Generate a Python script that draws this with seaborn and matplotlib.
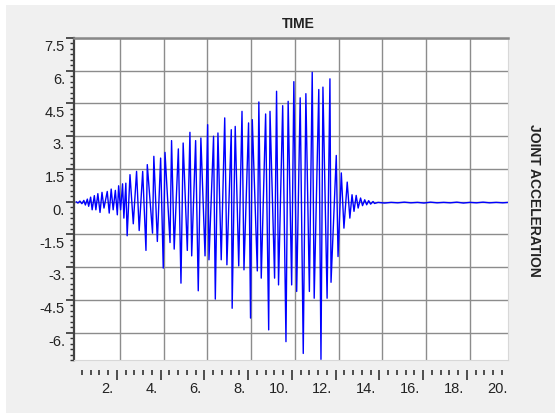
import matplotlib
matplotlib.use("Agg")
import matplotlib.pyplot as plt
from matplotlib.patches import Rectangle
from matplotlib.ticker import MultipleLocator
import numpy as np
import pandas as pd
import seaborn as sns

#%% Data (vertices of the trace)

time = [0.00, 0.08, 0.17, 0.26, 0.35, 0.42, 0.51, 0.57, 0.66, 0.73,
        0.83, 0.90, 0.99, 1.09, 1.18, 1.27, 1.42, 1.51, 1.60, 1.69,
        1.79, 1.88, 1.94, 2.03, 2.12, 2.18, 2.27, 2.33, 2.46, 2.61,
        2.76, 2.88, 3.04, 3.19, 3.25, 3.49, 3.55, 3.71, 3.86, 3.98,
        4.06, 4.29, 4.36, 4.48, 4.67, 4.79, 4.89, 5.08, 5.20, 5.28,
        5.46, 5.58, 5.70, 5.89, 6.01, 6.07, 6.28, 6.36, 6.48, 6.63,
        6.79, 6.89, 7.09, 7.13, 7.27, 7.43, 7.58, 7.67, 7.88, 7.97,
        8.05, 8.28, 8.35, 8.46, 8.66, 8.80, 8.86, 9.07, 9.16, 9.25,
        9.44, 9.59, 9.69, 9.85, 9.95, 10.08, 10.24, 10.38, 10.50, 10.66,
        10.79, 10.88, 11.09, 11.19, 11.28, 11.47, 11.60, 11.65, 11.89, 11.97,
        12.12, 12.24, 12.39, 12.51, 12.61, 12.70, 12.80, 12.89, 13.00, 13.09,
        13.19, 13.28, 13.37, 13.46, 13.57, 13.64, 13.80, 14.10, 14.40, 14.70,
        15.00, 15.30, 15.60, 15.90, 16.20, 16.50, 16.80, 17.10, 17.40, 17.70,
        18.00, 18.30, 18.60, 18.90, 19.20, 19.50, 19.75]

accel = [0.00, -0.06, 0.03, -0.09, 0.06, -0.15, 0.12, -0.21, 0.21, -0.37,
         0.28, -0.37, 0.37, -0.49, 0.43, -0.29, 0.47, -0.52, 0.58, -0.37,
         0.52, -0.60, 0.73, -0.37, 0.82, -0.75, 0.85, -1.56, 1.24, -1.01,
         1.39, -1.32, 1.39, -2.23, 1.70, -1.44, 2.08, -1.82, 2.00, -3.04,
         2.26, -1.87, 2.80, -2.17, 2.42, -3.73, 2.69, -2.23, 3.18, -2.48,
         2.80, -4.08, 2.92, -2.48, 3.53, -2.66, 3.00, -4.46, 3.15, -2.66,
         3.84, -2.89, 3.30, -4.88, 3.45, -2.94, 4.14, -3.12, 3.61, -5.33,
         3.76, -3.17, 4.57, -3.50, 4.02, -5.87, 4.14, -3.50, 5.06, -3.81,
         4.40, -6.41, 4.60, -3.81, 5.50, -4.11, 4.76, -6.95, 4.95, -4.11,
         5.93, -4.42, 5.14, -7.22, 5.25, -4.42, 5.63, -3.69, 2.12, -2.51,
         1.32, -1.21, 0.90, -0.75, 0.32, -0.44, 0.29, -0.29, 0.17, -0.18,
         0.09, -0.14, 0.05, -0.11, 0.01, -0.08, -0.03, -0.06, -0.03, -0.05,
         -0.02, -0.05, -0.03, -0.06, -0.02, -0.05, -0.03, -0.05, -0.02, -0.06,
         -0.03, -0.05, -0.02, -0.05, -0.03, -0.05, -0.03]

ytick_vals = [7.5, 6.0, 4.5, 3.0, 1.5, 0.0, -1.5, -3.0, -4.5, -6.0]
ytick_labels = ["7.5", "6.", "4.5", "3.", "1.5", "0.", "-1.5", "-3.", "-4.5", "-6."]
xtick_vals = [2, 4, 6, 8, 10, 12, 14, 16, 18, 20]
xtick_labels = ["2.", "4.", "6.", "8.", "10.", "12.", "14.", "16.", "18.", "20."]

df = pd.DataFrame({"time": time, "accel": accel})

#%% Figure

sns.set_theme(style="white")
plt.rcParams["font.family"] = ["Liberation Sans", "DejaVu Sans"]

W, H = 555, 418
fig = plt.figure(figsize=(W / 100, H / 100), dpi=100, facecolor="white")

# grey panel behind everything
fig.patches.append(Rectangle((6 / W, 5 / H), (W - 6) / W, (413 - 5) / H,
                             transform=fig.transFigure, facecolor="#f0f0f0",
                             edgecolor="none", zorder=-10))

# main plot area (pixels: x 74..508, y 38..360)
ax = fig.add_axes([74 / W, (H - 360) / H, (508 - 74) / W, (360 - 38) / H])
ax.set_facecolor("white")

sns.lineplot(data=df, x="time", y="accel", ax=ax, color="#0000ff",
             linewidth=1.0, sort=False, estimator=None)

ax.set_xlim(-0.10, 19.74)
ax.set_ylim(-7.25, 7.5)
ax.set_xlabel("")
ax.set_ylabel("")

# grid
ax.set_xticks([2, 4, 6, 8, 10, 12, 14, 16, 18])
ax.set_yticks(ytick_vals)
ax.yaxis.set_minor_locator(MultipleLocator(0.25))
ax.grid(True, which="major", color="#8c8c8c", linewidth=1.0)
ax.set_axisbelow(True)

ax.tick_params(axis="x", which="both", bottom=False, labelbottom=False)
ax.tick_params(axis="y", which="major", direction="out", length=6,
               width=1.2, color="#333333", labelleft=False, left=True)
ax.tick_params(axis="y", which="minor", direction="out", length=3,
               width=1.0, color="#333333", left=True)

ax.spines["left"].set_color("#444444")
ax.spines["left"].set_linewidth(1.6)
ax.spines["top"].set_color("#888888")
ax.spines["top"].set_linewidth(1.8)
ax.spines["right"].set_color("#d8d8d8")
ax.spines["right"].set_linewidth(0.8)
ax.spines["bottom"].set_color("#d8d8d8")
ax.spines["bottom"].set_linewidth(0.8)

for v, lbl in zip(ytick_vals, ytick_labels):
    ax.annotate(lbl, xy=(0, v), xycoords=("axes fraction", "data"),
                xytext=(-6.5, -1.5), textcoords="offset points",
                ha="right", va="top", fontsize=10.5, color="#222222",
                annotation_clip=False)

# ruler under the plot, slightly shifted like the original
rul = fig.add_axes([74 / W, (H - 370) / H, (508 - 74) / W, 0.001])
rul.set_xlim(-0.10 + 0.14, 19.74 + 0.14)
rul.set_ylim(0, 1)
rul.patch.set_visible(False)
for s in rul.spines.values():
    s.set_visible(False)
rul.set_yticks([])
rul.xaxis.set_major_locator(MultipleLocator(2))
rul.xaxis.set_minor_locator(MultipleLocator(0.4))
rul.tick_params(axis="x", which="major", direction="out", length=7.2,
                width=1.2, color="#333333", bottom=True, labelbottom=False)
rul.tick_params(axis="x", which="minor", direction="out", length=3.6,
                width=1.2, color="#333333", bottom=True)

for v, lbl in zip(xtick_vals, xtick_labels):
    rul.annotate(lbl, xy=(v, 0), xycoords=("data", "axes fraction"),
                 xytext=(-2.2, -8.5), textcoords="offset points",
                 ha="right", va="top", fontsize=10.5, color="#222222",
                 annotation_clip=False)

fig.text(298 / W, 1 - 23.5 / H, "TIME", ha="center", va="center",
         fontsize=10, fontweight="bold", color="#222222")
fig.text(534 / W, 1 - 200 / H, "JOINT ACCELERATION", ha="center",
         va="center", rotation=270, fontsize=10, fontweight="bold",
         color="#222222")

fig.savefig("out.png", dpi=100, facecolor=fig.get_facecolor())
